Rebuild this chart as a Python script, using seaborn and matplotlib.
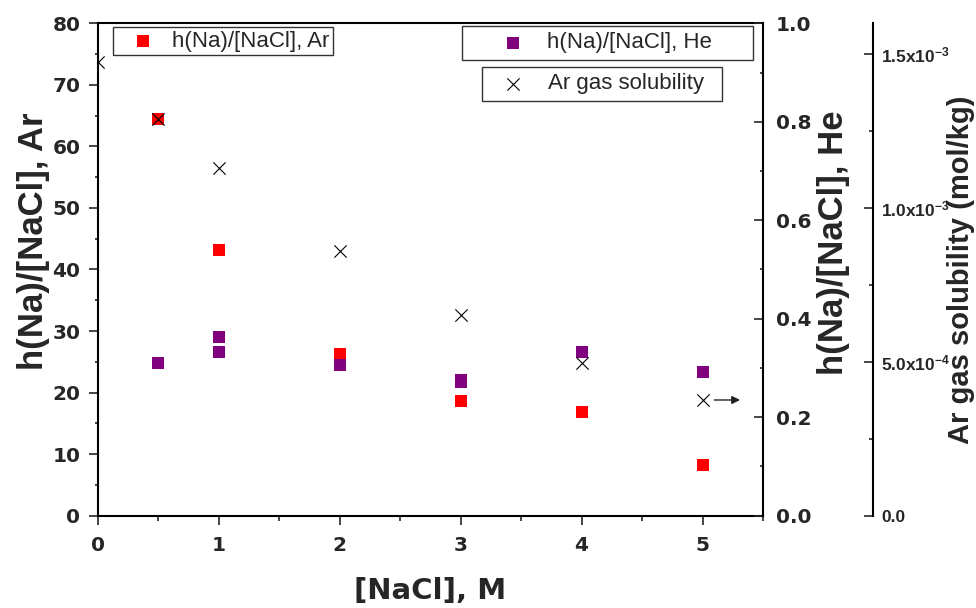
import matplotlib
matplotlib.use("Agg")
import matplotlib.pyplot as plt
import seaborn as sns
from matplotlib.ticker import MultipleLocator

# h(Na)/[NaCl] measured under Ar (left axis)
nacl_ar = [0.5, 1, 2, 3, 4, 5]
h_ratio_ar = [64.4, 43.2, 26.2, 18.7, 16.9, 8.2]

# h(Na)/[NaCl] measured under He (first right axis)
nacl_he = [0.5, 1, 1, 2, 3, 3, 4, 5]
h_ratio_he = [0.310, 0.362, 0.333, 0.306, 0.276, 0.272, 0.333, 0.292]

# Ar gas solubility in mol/kg (second right axis)
nacl_sol = [0, 0.5, 1, 2, 3, 4, 5]
ar_solubility = [1.473e-3, 1.289e-3, 1.129e-3, 0.861e-3, 0.652e-3, 0.495e-3, 0.376e-3]

x_ticks = [0, 1, 2, 3, 4, 5]
ar_ticks = [0, 10, 20, 30, 40, 50, 60, 70, 80]
he_ticks = [0.0, 0.2, 0.4, 0.6, 0.8, 1.0]
sol_ticks = [0.0, 5e-4, 1e-3, 1.5e-3]
sol_tick_labels = ["0.0", "5.0x10$^{-4}$", "1.0x10$^{-3}$", "1.5x10$^{-3}$"]

label_ar = "h(Na)/[NaCl], Ar"
label_he = "h(Na)/[NaCl], He"
label_sol = "Ar gas solubility"
x_label = "[NaCl], M"
sol_axis_label = "Ar gas solubility (mol/kg)"

sns.set_style("white")
plt.rcParams["font.family"] = ["DejaVu Sans"]
plt.rcParams["font.weight"] = "bold"
plt.rcParams["mathtext.fontset"] = "custom"
plt.rcParams["mathtext.rm"] = "Liberation Sans:bold"
plt.rcParams["mathtext.default"] = "rm"
plt.rcParams["axes.grid"] = False

fig = plt.figure(figsize=(9.76, 6.08), dpi=100)
ax = fig.add_axes([0.1001, 0.1518, 0.6817, 0.8099])
ax_he = ax.twinx()
ax_sol = ax.twinx()

sns.scatterplot(x=nacl_ar, y=h_ratio_ar, ax=ax, marker="s", color="#ff0000",
                s=66, linewidth=0, legend=False)
sns.scatterplot(x=nacl_he, y=h_ratio_he, ax=ax_he, marker="s", color="#800080",
                s=66, linewidth=0, legend=False)
sns.scatterplot(x=nacl_sol, y=ar_solubility, ax=ax_sol, marker="x", color="black",
                s=78, linewidth=0.8, legend=False)

ax.set_xlim(0, 5.5)
ax.set_ylim(0, 80)
ax_he.set_ylim(0, 1.0)
ax_sol.set_ylim(0, 1.6e-3)

# spines
for a in (ax, ax_he, ax_sol):
    for sp in a.spines.values():
        sp.set_linewidth(1.5)
        sp.set_color("black")
ax.spines["right"].set_visible(False)
for side in ("left", "top", "bottom"):
    ax_he.spines[side].set_visible(False)
    ax_sol.spines[side].set_visible(False)
ax_sol.spines["right"].set_position(("axes", 1.1648))

# main axes ticks
ax.set_xticks(x_ticks)
ax.xaxis.set_minor_locator(MultipleLocator(0.5))
ax.set_yticks(ar_ticks)
ax.yaxis.set_minor_locator(MultipleLocator(5))
ax.tick_params(axis="x", which="major", direction="out", length=6.7, width=1.2,
               labelsize=14.5, pad=8, top=False, bottom=True)
ax.tick_params(axis="x", which="minor", direction="out", length=3.6, width=1.2,
               top=False, bottom=True)
ax.tick_params(axis="y", which="major", direction="out", length=6.7, width=1.2,
               labelsize=14.5, pad=5.8, left=True, right=False)
ax.tick_params(axis="y", which="minor", direction="out", length=2.5, width=1.2,
               left=True, right=False)

# He axis ticks
ax_he.set_yticks(he_ticks)
ax_he.set_yticklabels([f"{v:.1f}" for v in he_ticks])
ax_he.yaxis.set_minor_locator(MultipleLocator(0.1))
ax_he.tick_params(axis="y", which="major", direction="in", length=6.7, width=1.2,
                  labelsize=14.5, pad=9.4)
ax_he.tick_params(axis="y", which="minor", direction="in", length=2.5, width=1.2)

# solubility axis ticks
ax_sol.set_yticks(sol_ticks)
ax_sol.set_yticklabels(sol_tick_labels)
ax_sol.yaxis.set_minor_locator(MultipleLocator(2.5e-4))
ax_sol.tick_params(axis="y", which="major", direction="in", length=6.7, width=1.2,
                   labelsize=12.5, pad=6, labelfontfamily="Liberation Sans")
ax_sol.tick_params(axis="y", which="minor", direction="in", length=3.0, width=1.2)

# axis titles
ax.set_xlabel(x_label, fontsize=21, fontweight="bold", family="DejaVu Sans")
ax.xaxis.set_label_coords(0.5, -0.1245)
ax.set_ylabel(label_ar, fontsize=25, fontweight="bold", family="Liberation Sans")
ax.yaxis.set_label_coords(-0.0717, 0.557)
ax_he.set_ylabel(label_he, fontsize=25, fontweight="bold", family="Liberation Sans")
ax_he.yaxis.set_label_coords(1.0812, 0.555)
ax_sol.set_ylabel(sol_axis_label, fontsize=21, fontweight="bold", family="Liberation Sans")
ax_sol.yaxis.set_label_coords(1.277, 0.5)

# arrow pointing from the last solubility point to its axis
ax_sol.annotate("", xy=(nacl_sol[-1], ar_solubility[-1]), xytext=(27, 0),
                textcoords="offset points",
                arrowprops=dict(arrowstyle="<|-", color="#222222", lw=1.0,
                                shrinkA=0, shrinkB=8.5, mutation_scale=12))

# three separate legend boxes
legend_font = {"family": "Liberation Sans", "size": 16, "weight": "normal"}
legend_specs = [
    (ax.collections[0], label_ar, (0.1158, 0.9556, 0.2254, 0.0), 0.16, 2.39, 0.09),
    (ax_he.collections[0], label_he, (0.4734, 0.9572, 0.2982, 0.0), 0.29, 4.02, -0.5),
    (ax_sol.collections[0], label_sol, (0.4939, 0.8898, 0.2459, 0.0), 0.29, 2.22, 0.47),
]
for handle, text, anchor, bpad, hlen, hpad in legend_specs:
    leg = fig.legend(handles=[handle], labels=[text], loc="upper left",
                     bbox_to_anchor=anchor, bbox_transform=fig.transFigure,
                     mode="expand", borderaxespad=0, borderpad=bpad,
                     handlelength=hlen, handletextpad=hpad, scatterpoints=1,
                     fancybox=False, framealpha=1, edgecolor="#333333",
                     prop=legend_font)
    leg.get_frame().set_linewidth(1.0)

fig.savefig("out.png", dpi=100)
